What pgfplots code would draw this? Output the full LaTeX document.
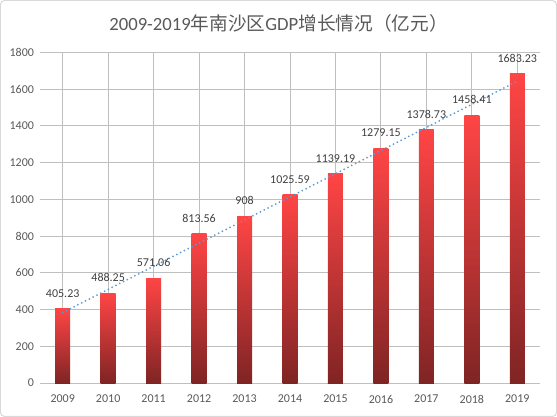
\documentclass[border=0pt]{standalone}
\usepackage{pgfplots}
\pgfplotsset{compat=1.18}
\usepackage{fontspec}
\setmainfont{Carlito}
\newfontfamily\cjk{Noto Sans CJK SC}
\definecolor{txt}{HTML}{595959}
\definecolor{lbl}{HTML}{404040}
\definecolor{grid}{HTML}{D9D9D9}
\definecolor{bartop}{HTML}{FF4545}
\definecolor{barmid}{HTML}{E23D3D}
\definecolor{barbot}{HTML}{7F2424}
\definecolor{trend}{HTML}{5B9BD5}
\pgfplotsset{gbar/.style={ybar, bar width=11.25pt, bar shift=0pt, draw=none,
  top color=bartop, middle color=barmid, bottom color=barbot,
  point meta=explicit symbolic,
  nodes near coords,
  nodes near coords style={text=lbl, font=\fontsize{9}{11}\selectfont, yshift=5pt, anchor=south}}}
\begin{document}
\begin{tikzpicture}
\draw[grid, line width=0.75pt, rounded corners=3pt] (0.4pt,0.4pt) rectangle (417.35pt,312.35pt);
\node[text=txt, font=\fontsize{14}{16}\selectfont] at (208.9pt,295.5pt) {2009-2019{\cjk 年南沙区}GDP{\cjk 增长情况（亿元）}};
\begin{axis}[
  at={(30pt,25.5pt)}, anchor=south west,
  scale only axis, width=375pt, height=247.9pt,
  xmin=-0.5, xmax=10.5, ymin=0, ymax=1800,
  ytick={0,200,...,1800},
  xtick={0,...,10},
  xticklabels={2009,2010,2011,2012,2013,2014,2015,2016,2017,2018,2019},
  axis line style={draw=none},
  major tick style={draw=none},
  ymajorgrids, grid style={grid, line width=0.75pt},
  ticklabel style={text=txt, font=\fontsize{9}{11}\selectfont},
  xticklabel style={yshift=-5.5pt},
  yticklabel style={xshift=-1pt},
  /pgf/number format/assume math mode=true,
  /pgf/number format/1000 sep={},
  clip=false,
]
\addplot[gbar] coordinates {(0,405.23) [405.23]};
\addplot[gbar] coordinates {(1,488.25) [488.25]};
\addplot[gbar] coordinates {(2,571.06) [571.06]};
\addplot[gbar] coordinates {(3,813.56) [813.56]};
\addplot[gbar] coordinates {(4,908) [908]};
\addplot[gbar] coordinates {(5,1025.59) [1025.59]};
\addplot[gbar] coordinates {(6,1139.19) [1139.19]};
\addplot[gbar] coordinates {(7,1279.15) [1279.15]};
\addplot[gbar] coordinates {(8,1378.73) [1378.73]};
\addplot[gbar] coordinates {(9,1458.41) [1458.41]};
\addplot[gbar] coordinates {(10,1683.23) [1683.23]};
\addplot[trend, line width=1.5pt, dash pattern=on 0pt off 3.2pt, line cap=round]
  coordinates {(0,383.85) (10,1643.49)};
\end{axis}
\end{tikzpicture}
\end{document}
